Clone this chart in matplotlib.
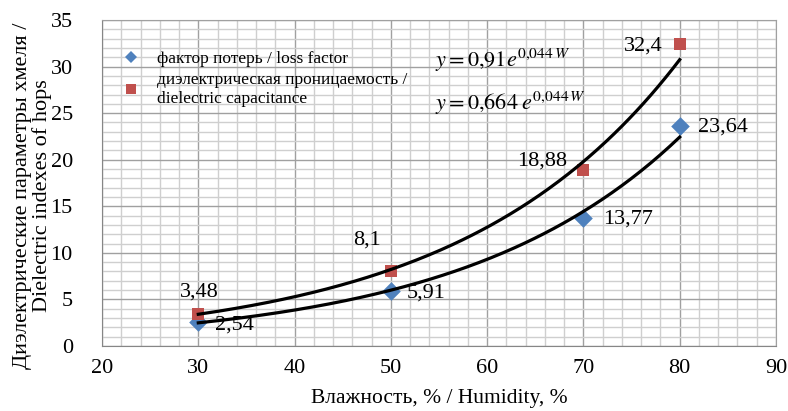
import numpy as np
import matplotlib
matplotlib.use("Agg")
import matplotlib.pyplot as plt
from matplotlib.ticker import MultipleLocator
from matplotlib.lines import Line2D

plt.rcParams['font.family'] = ['Liberation Serif', 'DejaVu Serif']
plt.rcParams['mathtext.fontset'] = 'stix'

humidity = [30, 50, 70, 80]
loss_factor = [2.54, 5.91, 13.77, 23.64]
capacitance = [3.48, 8.1, 18.88, 32.4]
loss_labels = ['2,54', '5,91', '13,77', '23,64']
cap_labels = ['3,48', '8,1', '18,88', '32,4']
loss_coef, cap_coef, rate = 0.664, 0.91, 0.044

fig = plt.figure(figsize=(7.88, 4.11), dpi=100)
ax = fig.add_axes([102/788, 1-346/411, (776-102)/788, (346-20)/411])

ax.set_xlim(20, 90)
ax.set_ylim(0, 35)
ax.xaxis.set_major_locator(MultipleLocator(10))
ax.xaxis.set_minor_locator(MultipleLocator(2))
ax.yaxis.set_major_locator(MultipleLocator(5))
ax.yaxis.set_minor_locator(MultipleLocator(1))
ax.grid(which='minor', color='#CFCFCF', lw=1.0)
ax.grid(which='major', color='#A0A0A0', lw=1.0)
ax.set_axisbelow(True)
ax.tick_params(which='both', length=0, labelsize=16, colors='black')
ax.tick_params(axis='y', pad=21)
ax.tick_params(axis='x', pad=9)
for s in ['top', 'right']:
    ax.spines[s].set_color('#A0A0A0')
for s in ['left', 'bottom']:
    ax.spines[s].set_color('#868686')

xs = np.linspace(30, 80, 200)
ax.plot(xs, cap_coef*np.exp(rate*xs), color='black', lw=2.3, zorder=3)
ax.plot(xs, loss_coef*np.exp(rate*xs), color='black', lw=2.3, zorder=3)

ax.scatter(humidity, loss_factor, marker='D', s=90, color='#4F81BD', zorder=2, linewidths=0)
ax.scatter(humidity, capacitance, marker='s', s=85, color='#C0504D', zorder=2, linewidths=0)

loss_off = [(33.8, 2.2), (53.7, 5.7), (74.6, 13.6), (84.5, 23.5)]
cap_off = [(30.1, 5.8), (47.5, 11.4), (65.7, 19.9), (76.2, 32.2)]
for (tx, ty), t in zip(loss_off, loss_labels):
    ax.text(tx, ty, t, fontsize=16, ha='center', va='center')
for (tx, ty), t in zip(cap_off, cap_labels):
    ax.text(tx, ty, t, fontsize=16, ha='center', va='center')

ax.text(54.6, 30.0, r'$y = 0{,}91e^{0{,}044\,W}$', fontsize=16, ha='left', va='baseline')
ax.text(54.6, 25.3, r'$y = 0{,}664\;e^{0{,}044\,W}$', fontsize=16, ha='left', va='baseline')

handles = [Line2D([], [], ls='none', marker='D', ms=6, color='#4F81BD', mew=0),
           Line2D([], [], ls='none', marker='s', ms=7, color='#C0504D', mew=0)]
labels = ['фактор потерь / loss factor',
          'диэлектрическая проницаемость /\ndielectric capacitance']
ax.legend(handles, labels, loc='upper left', bbox_to_anchor=(0.03, 0.905), frameon=False,
          fontsize=12.5, handlelength=1.0, handletextpad=1.0, labelspacing=0.3,
          borderpad=0, borderaxespad=0)

ax.set_xlabel('Влажность, % / Humidity, %', fontsize=15.5, labelpad=8)
ax.set_ylabel('Диэлектрические параметры хмеля /\nDielectric indexes of hops',
              fontsize=16, linespacing=1.0)
ax.yaxis.set_label_coords(-0.074, 0.46)

fig.savefig('out.png', dpi=100)
